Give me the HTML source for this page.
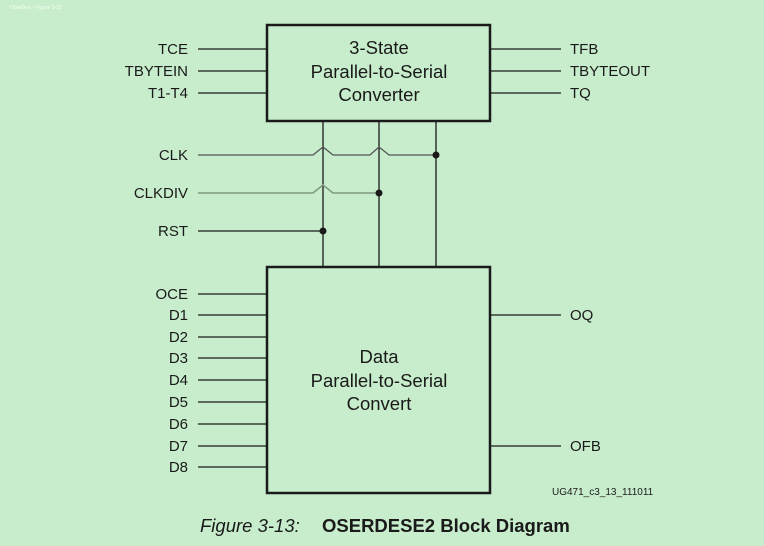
<!DOCTYPE html>
<html><head><meta charset="utf-8"><style>
html,body{margin:0;padding:0;background:#c8edcc;}
svg{display:block}
text{font-family:"Liberation Sans",Arial,sans-serif;fill:#1a1a1a}
</style></head><body>
<svg width="764" height="546" viewBox="0 0 764 546" xmlns="http://www.w3.org/2000/svg">
<rect width="764" height="546" fill="#c8edcc"/>
<text x="10" y="9" font-size="5" style="fill:#f4fff4">OSerDes – Figure 3-13</text>
<g stroke="#1a1a1a" fill="none">
<rect x="267" y="25" width="223" height="96" stroke-width="2.5"/>
<rect x="267" y="267" width="223" height="226" stroke-width="2.5"/>
<g stroke-width="1.3">
<line x1="198" y1="49" x2="267" y2="49"/>
<line x1="198" y1="71" x2="267" y2="71"/>
<line x1="198" y1="93" x2="267" y2="93"/>
<line x1="491" y1="49" x2="561" y2="49"/>
<line x1="491" y1="71" x2="561" y2="71"/>
<line x1="491" y1="93" x2="561" y2="93"/>
<line x1="323" y1="121" x2="323" y2="267"/>
<line x1="379" y1="121" x2="379" y2="267"/>
<line x1="436" y1="121" x2="436" y2="267"/>
<polyline points="198,155 313,155 323,147 333,155 370,155 379,147 389,155 436,155" stroke="#555"/>
<polyline points="198,193 313,193 323,185 333,193 379,193" stroke="#7f9a82" stroke-width="1.6"/>
<line x1="198" y1="231" x2="323" y2="231"/>
<line x1="198" y1="294" x2="267" y2="294"/>
<line x1="198" y1="315" x2="267" y2="315"/>
<line x1="198" y1="337" x2="267" y2="337"/>
<line x1="198" y1="358" x2="267" y2="358"/>
<line x1="198" y1="380" x2="267" y2="380"/>
<line x1="198" y1="402" x2="267" y2="402"/>
<line x1="198" y1="424" x2="267" y2="424"/>
<line x1="198" y1="446" x2="267" y2="446"/>
<line x1="198" y1="467" x2="267" y2="467"/>
<line x1="491" y1="315" x2="561" y2="315"/>
<line x1="491" y1="446" x2="561" y2="446"/>
</g>
</g>
<g fill="#1a1a1a">
<circle cx="436" cy="155" r="3.5"/>
<circle cx="379" cy="193" r="3.5"/>
<circle cx="323" cy="231" r="3.5"/>
</g>
<g font-size="15" text-anchor="end">
<text x="188" y="54">TCE</text>
<text x="188" y="76">TBYTEIN</text>
<text x="188" y="98">T1-T4</text>
<text x="188" y="160">CLK</text>
<text x="188" y="198">CLKDIV</text>
<text x="188" y="236">RST</text>
<text x="188" y="299">OCE</text>
<text x="188" y="320">D1</text>
<text x="188" y="342">D2</text>
<text x="188" y="363">D3</text>
<text x="188" y="385">D4</text>
<text x="188" y="407">D5</text>
<text x="188" y="429">D6</text>
<text x="188" y="451">D7</text>
<text x="188" y="472">D8</text>
</g>
<g font-size="15">
<text x="570" y="54">TFB</text>
<text x="570" y="76">TBYTEOUT</text>
<text x="570" y="98">TQ</text>
<text x="570" y="320">OQ</text>
<text x="570" y="451">OFB</text>
</g>
<g font-size="18.5" text-anchor="middle">
<text x="379" y="54">3-State</text>
<text x="379" y="78">Parallel-to-Serial</text>
<text x="379" y="101">Converter</text>
<text x="379" y="363">Data</text>
<text x="379" y="387">Parallel-to-Serial</text>
<text x="379" y="410">Convert</text>
</g>
<text x="552" y="495" font-size="10">UG471_c3_13_111011</text>
<text x="200" y="532" font-size="18.5" font-style="italic">Figure 3-13:</text>
<text x="322" y="532" font-size="18.5" font-weight="bold">OSERDESE2 Block Diagram</text>
</svg>
</body></html>
